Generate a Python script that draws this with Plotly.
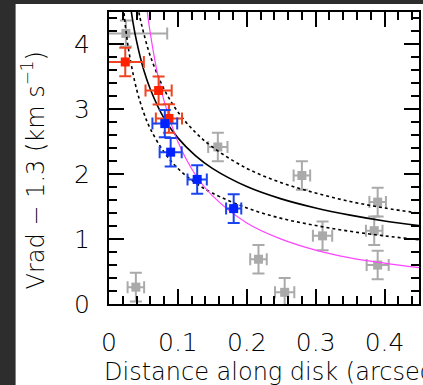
import plotly.graph_objects as go

# ---- data ----
gray_x = [0.0245, 0.039, 0.158, 0.217, 0.255, 0.280, 0.310, 0.390, 0.385, 0.390]
gray_y = [4.17, 0.26, 2.42, 0.69, 0.18, 1.98, 1.05, 1.57, 1.13, 0.60]
gray_xerr = [0.06, 0.012, 0.014, 0.012, 0.014, 0.012, 0.014, 0.012, 0.012, 0.016]
gray_yerr = [0.2, 0.22, 0.22, 0.22, 0.22, 0.22, 0.22, 0.22, 0.22, 0.22]

red_x = [0.0236, 0.072, 0.087]
red_y = [3.73, 3.29, 2.86]
red_xerr = [0.027, 0.019, 0.019]
red_yerr = [0.22, 0.215, 0.22]

blue_x = [0.081, 0.0895, 0.128, 0.181]
blue_y = [2.78, 2.34, 1.92, 1.47]
blue_xerr = [0.018, 0.016, 0.014, 0.011]
blue_yerr = [0.21, 0.22, 0.22, 0.22]

# model curves
kep_x = [0.03, 0.035, 0.04, 0.05, 0.06, 0.08, 0.1, 0.125, 0.15, 0.2, 0.25, 0.3, 0.35, 0.4, 0.45]
kep_y = [4.68, 4.33, 4.05, 3.62, 3.31, 2.86, 2.56, 2.29, 2.09, 1.81, 1.62, 1.48, 1.37, 1.28, 1.21]

up_x = [0.04, 0.045, 0.05, 0.06, 0.08, 0.1, 0.125, 0.15, 0.2, 0.25, 0.3, 0.35, 0.4, 0.45]
up_y = [4.68, 4.41, 4.19, 3.82, 3.31, 2.96, 2.65, 2.42, 2.09, 1.87, 1.71, 1.58, 1.48, 1.40]

lo_x = [0.02, 0.025, 0.03, 0.04, 0.05, 0.06, 0.08, 0.1, 0.125, 0.15, 0.2, 0.25, 0.3, 0.35, 0.4, 0.45]
lo_y = [4.67, 4.18, 3.82, 3.31, 2.96, 2.70, 2.34, 2.09, 1.87, 1.71, 1.48, 1.32, 1.21, 1.12, 1.05, 0.99]

mag_x = [0.05, 0.055, 0.06, 0.07, 0.08, 0.1, 0.125, 0.15, 0.2, 0.25, 0.3, 0.35, 0.4, 0.45]
mag_y = [5.0, 4.55, 4.17, 3.57, 3.13, 2.5, 2.0, 1.67, 1.25, 1.0, 0.83, 0.71, 0.63, 0.56]

x_ticks = [0, 0.1, 0.2, 0.3, 0.4]
x_tick_labels = ["0", "0.1", "0.2", "0.3", "0.4"]
y_ticks = [0, 1, 2, 3, 4]
y_tick_labels = ["0", "1", "2", "3", "4"]

FONT = "DejaVu Sans"

fig = go.Figure()


def add_curve(xs, ys, color, width, dash):
    fig.add_trace(go.Scatter(x=xs, y=ys, mode="lines", line=dict(color=color, width=width, dash=dash, shape="spline"),
                             hoverinfo="skip", showlegend=False))


def add_points(xs, ys, xe, ye, mcolor, ecolor):
    fig.add_trace(go.Scatter(
        x=xs, y=ys, mode="markers",
        marker=dict(symbol="square", size=9, color=mcolor),
        error_x=dict(type="data", array=xe, color=ecolor, thickness=2, width=6),
        error_y=dict(type="data", array=ye, color=ecolor, thickness=2, width=6),
        showlegend=False))


add_points(gray_x, gray_y, gray_xerr, gray_yerr, "#aaaaaa", "#aaaaaa")
add_curve(up_x, up_y, "black", 1.6, "dot")
add_curve(lo_x, lo_y, "black", 1.6, "dot")
add_curve(kep_x, kep_y, "black", 1.6, "solid")
add_curve(mag_x, mag_y, "#ff44ff", 1.2, "solid")
add_points(red_x, red_y, red_xerr, red_yerr, "#ff2200", "#ee4422")
add_points(blue_x, blue_y, blue_xerr, blue_yerr, "#0022ff", "#1a44ee")

axis_common = dict(
    showgrid=False, zeroline=False, showline=True, linecolor="black", linewidth=2,
    mirror="allticks", ticks="inside", ticklen=15, tickwidth=1.5, tickcolor="black",
    tickfont=dict(family=FONT, size=25, color="black", weight=200),
)

fig.update_xaxes(range=[0, 0.45], tickvals=x_ticks, ticktext=x_tick_labels,
                 minor=dict(dtick=0.02, ticks="inside", ticklen=8, tickwidth=1.5, tickcolor="black"),
                 ticklabelstandoff=15, **axis_common)
fig.update_yaxes(range=[0, 4.5], tickvals=y_ticks, ticktext=y_tick_labels,
                 minor=dict(dtick=0.2, ticks="inside", ticklen=8, tickwidth=1.5, tickcolor="black"),
                 ticklabelstandoff=12, **axis_common)

fig.update_layout(
    width=423, height=385,
    margin=dict(l=109, r=2, t=12, b=81),
    paper_bgcolor="#2d2d2d", plot_bgcolor="white",
    shapes=[dict(type="rect", xref="paper", yref="paper", layer="below",
                 x0=(15 - 109) / 312, x1=(430 - 109) / 312,
                 y0=(304 - 390) / 292, y1=(304 - 4) / 292,
                 fillcolor="white", line=dict(width=0))],
    annotations=[
        dict(text="Distance along disk (arcsec)", xref="paper", yref="paper",
             x=(102 - 109) / 312, y=(304 - 372) / 292, xanchor="left", yanchor="middle",
             showarrow=False, font=dict(family=FONT, size=24, color="black", weight=200)),
        dict(text="Vrad − 1.3 (km s<sup>−1</sup>)", xref="paper", yref="paper",
             x=(33 - 109) / 312, y=(304 - 170) / 292, xanchor="center", yanchor="middle",
             textangle=-90, showarrow=False,
             font=dict(family=FONT, size=24, color="black", weight=200)),
    ],
)

fig.write_html("out.html")
